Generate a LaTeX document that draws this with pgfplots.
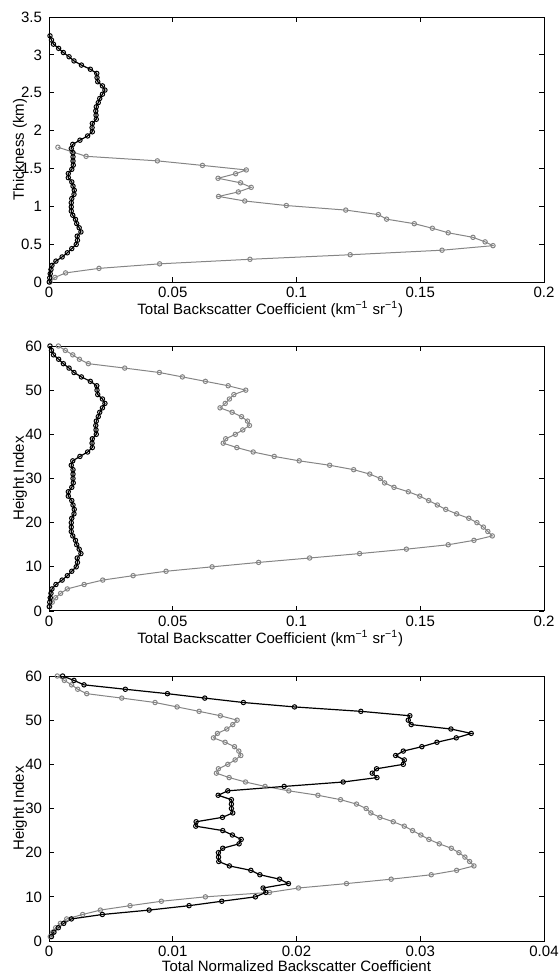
\documentclass[border=0pt]{standalone}
\usepackage{fontspec}
\setmainfont{Liberation Sans}
\usepackage{pgfplots}
\usepackage{pgfplotstable}
\pgfplotsset{compat=1.18}

% Molecular-corrected profile: height index, thickness (km), backscatter (1/(km sr))
\pgfplotstableread{
idx km val
1 0.000 0.0001
2 0.055 0.0003
3 0.110 0.0005
4 0.165 0.0008
5 0.220 0.0012
6 0.276 0.0028
7 0.331 0.0053
8 0.386 0.0074
9 0.441 0.0092
10 0.496 0.0110
11 0.551 0.0115
12 0.606 0.0114
13 0.661 0.0129
14 0.716 0.0122
15 0.771 0.0112
16 0.827 0.0107
17 0.882 0.0096
18 0.937 0.0090
19 0.992 0.0090
20 1.047 0.0090
21 1.102 0.0092
22 1.157 0.0101
23 1.212 0.0102
24 1.267 0.0097
25 1.322 0.0092
26 1.378 0.0078
27 1.433 0.0078
28 1.488 0.0092
29 1.543 0.0098
30 1.598 0.0097
31 1.653 0.0097
32 1.708 0.0097
33 1.763 0.0090
34 1.818 0.0096
35 1.873 0.0125
36 1.929 0.0156
37 1.984 0.0175
38 2.039 0.0174
39 2.094 0.0175
40 2.149 0.0191
41 2.204 0.0190
42 2.259 0.0189
43 2.314 0.0191
44 2.369 0.0199
45 2.424 0.0205
46 2.480 0.0216
47 2.535 0.0226
48 2.590 0.0216
49 2.645 0.0197
50 2.700 0.0194
51 2.755 0.0193
52 2.810 0.0167
53 2.865 0.0131
54 2.920 0.0101
55 2.975 0.0081
56 3.031 0.0058
57 3.086 0.0039
58 3.141 0.0018
59 3.196 0.0010
60 3.251 0.0004
}\blackprof

% Second profile on its own thickness grid
\pgfplotstableread{
km val
0.00 0.0004
0.06 0.0024
0.12 0.0067
0.18 0.0202
0.24 0.0447
0.30 0.0812
0.36 0.1217
0.42 0.1588
0.48 0.1794
0.53 0.1762
0.59 0.1713
0.65 0.1613
0.71 0.1549
0.77 0.1476
0.83 0.1364
0.89 0.1331
0.95 0.1199
1.01 0.0959
1.07 0.0791
1.13 0.0685
1.19 0.0765
1.25 0.0817
1.31 0.0774
1.37 0.0683
1.43 0.0754
1.48 0.0797
1.54 0.0620
1.60 0.0438
1.66 0.0150
1.72 0.0093
1.78 0.0036
}\grayprofkm

% Second profile on the 60-level height index
\pgfplotstableread{
idx val
1 0.0003
2 0.0013
3 0.0027
4 0.0047
5 0.0074
6 0.0142
7 0.0217
8 0.0340
9 0.0473
10 0.0659
11 0.0847
12 0.1053
13 0.1255
14 0.1444
15 0.1613
16 0.1717
17 0.1791
18 0.1773
19 0.1755
20 0.1729
21 0.1696
22 0.1647
23 0.1603
24 0.1569
25 0.1534
26 0.1498
27 0.1452
28 0.1394
29 0.1356
30 0.1339
31 0.1296
32 0.1231
33 0.1134
34 0.1011
35 0.0910
36 0.0825
37 0.0759
38 0.0704
39 0.0714
40 0.0753
41 0.0783
42 0.0810
43 0.0802
44 0.0778
45 0.0740
46 0.0691
47 0.0712
48 0.0729
49 0.0747
50 0.0795
51 0.0724
52 0.0632
53 0.0539
54 0.0446
55 0.0306
56 0.0159
57 0.0123
58 0.0096
59 0.0066
60 0.0038
}\grayprofidx

% Normalized profiles (each divided by its column sum)
\pgfplotstableread{
idx blk gry
1 0.0002 0.0001
2 0.0004 0.0003
3 0.00075 0.00054
4 0.00119 0.00092
5 0.00181 0.00143
6 0.00431 0.00272
7 0.00809 0.00415
8 0.01132 0.00655
9 0.01396 0.00908
10 0.01668 0.01264
11 0.01752 0.01782
12 0.01730 0.02016
13 0.01935 0.02404
14 0.01863 0.02765
15 0.01704 0.03089
16 0.01631 0.03294
17 0.01458 0.03434
18 0.01372 0.03399
19 0.01370 0.03361
20 0.01369 0.03313
21 0.01404 0.03251
22 0.01536 0.03154
23 0.01553 0.03070
24 0.01482 0.03005
25 0.01404 0.02938
26 0.01186 0.02871
27 0.01189 0.02782
28 0.01402 0.02674
29 0.01485 0.02601
30 0.01474 0.02563
31 0.01474 0.02485
32 0.01474 0.02356
33 0.01367 0.02173
34 0.01445 0.01938
35 0.01900 0.01746
36 0.02377 0.01588
37 0.02650 0.01456
38 0.02612 0.01353
39 0.02647 0.01369
40 0.02863 0.01445
41 0.02871 0.01504
42 0.02801 0.01550
43 0.02863 0.01534
44 0.03013 0.01499
45 0.03135 0.01423
46 0.03291 0.01329
47 0.03412 0.01361
48 0.03248 0.01437
49 0.02927 0.01485
50 0.02903 0.01520
51 0.02916 0.01385
52 0.02520 0.01213
53 0.01984 0.01035
54 0.01571 0.00857
55 0.01259 0.00588
56 0.00957 0.00305
57 0.00617 0.00232
58 0.00283 0.00183
59 0.00202 0.00124
60 0.00110 0.00067
}\normprof

\definecolor{profgray}{gray}{0.52}

\pgfplotsset{
  panel/.style={
    scale only axis, width=247.5pt, height=132.5pt,
    anchor=north west,
    font=\fontsize{7.5}{9}\selectfont,
    tick align=inside, major tick length=2.6pt,
    axis line style={line width=0.5pt},
    every tick/.style={black, line width=0.4pt},
    /pgf/number format/assume math mode=true,
    /pgf/number format/fixed,
    /pgf/number format/precision=3,
    scaled ticks=false,
    xmin=0,
    xticklabel style={yshift=1pt},
    ylabel style={at={(axis description cs:-0.051,0.5)}, anchor=base},
  },
  blk/.style={black, line width=0.6pt, mark=o, mark size=1.1pt,
    mark options={solid, line width=0.5pt}},
  gry/.style={profgray, line width=0.5pt, mark=o, mark size=1.1pt,
    mark options={solid, line width=0.5pt}},
}

\begin{document}
\begin{tikzpicture}
\path[use as bounding box] (0,0) rectangle (279.5pt,-487.5pt);

% Thickness profile
\begin{axis}[panel, at={(24.5pt,-8.5pt)},
  xmax=0.2, ymin=0, ymax=3.5,
  xtick={0,0.05,0.1,0.15,0.2},
  ytick={0,0.5,1,1.5,2,2.5,3,3.5},
  ylabel={Thickness (km)},
  xlabel={Total Backscatter Coefficient (km\textsuperscript{−1} sr\textsuperscript{−1})},
  xlabel style={at={(axis description cs:0.447,-0.123)}, anchor=base},
]
\addplot[gry] table[x=val, y=km] {\grayprofkm};
\addplot[blk] table[x=val, y=km] {\blackprof};
\end{axis}

% Height-index profile
\begin{axis}[panel, at={(24.5pt,-173pt)},
  xmax=0.2, ymin=0, ymax=60,
  xtick={0,0.05,0.1,0.15,0.2},
  ytick={0,10,20,30,40,50,60},
  ylabel={Height Index},
  xlabel={Total Backscatter Coefficient (km\textsuperscript{−1} sr\textsuperscript{−1})},
  xlabel style={at={(axis description cs:0.447,-0.123)}, anchor=base},
]
\addplot[gry] table[x=val, y=idx] {\grayprofidx};
\addplot[blk] table[x=val, y=idx] {\blackprof};
\end{axis}

% Normalized profiles
\begin{axis}[panel, at={(24.5pt,-338pt)},
  xmax=0.04, ymin=0, ymax=60,
  xtick={0,0.01,0.02,0.03,0.04},
  ytick={0,10,20,30,40,50,60},
  ylabel={Height Index},
  xlabel={Total Normalized Backscatter Coefficient},
  xlabel style={at={(axis description cs:0.5,-0.115)}, anchor=base},
]
\addplot[gry] table[x=gry, y=idx] {\normprof};
\addplot[blk] table[x=blk, y=idx] {\normprof};
\end{axis}
\end{tikzpicture}
\end{document}
